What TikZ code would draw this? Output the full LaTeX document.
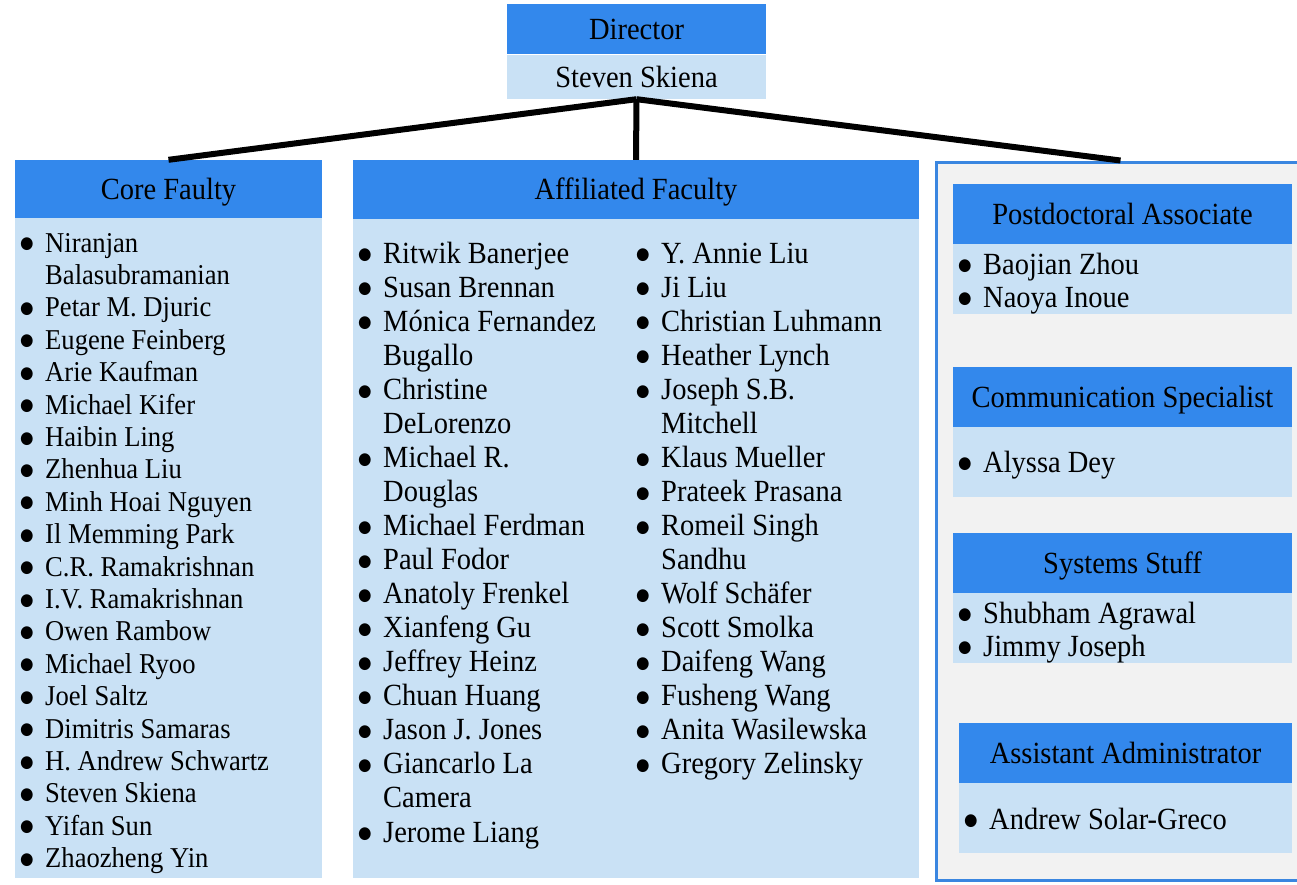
\documentclass[tikz,border=0pt]{standalone}
\usepackage{fontspec}
\setmainfont{Liberation Serif}
\newfontfamily\dejavu{DejaVu Sans}
\definecolor{hdr}{RGB}{51,136,236}
\definecolor{bdy}{RGB}{201,225,245}
\definecolor{pnl}{RGB}{242,242,242}
\definecolor{pbrd}{RGB}{58,134,224}
\newcommand\B{\llap{\raisebox{3pt}{\dejavu\fontsize{15.5}{15}\selectfont ●}\hspace{11.5pt}}}
\newcommand\vs[1]{\scalebox{1}[1.08]{#1}}
\tikzset{
  hdrbox/.style={fill=hdr, draw=none, inner sep=0, text height=20pt, text depth=0pt, font=\fontsize{28.5}{34}\selectfont},
  bdybox/.style={fill=bdy, draw=none, inner sep=0},
  item/.style={anchor=base west, inner sep=0, font=\fontsize{28.5}{34}\selectfont},
  smallitem/.style={anchor=base west, inner sep=0, font=\fontsize{26.6}{32}\selectfont},
  conn/.style={line width=6pt, black},
  panel/.style={fill=pnl, draw=pbrd, line width=3pt, inner sep=0}
}
\begin{document}
\begin{tikzpicture}[x=1pt,y=-1pt]
\useasboundingbox[fill=white] (0,0) rectangle (1297,884);
% right panel
\node[panel, minimum width=369pt, minimum height=718pt] (panel) at (1120.5,521) {};
% director
\node[hdrbox, minimum width=259pt, minimum height=50pt] (dirH) at (636.5,29) {\vs{Director}};
\node[bdybox, minimum width=259pt, minimum height=44pt, text height=20pt, text depth=0pt, font=\fontsize{28.5}{34}\selectfont] (dirB) at (636.5,77) {\vs{Steven Skiena}};
% core
\node[hdrbox, minimum width=307pt, minimum height=58pt] (coreH) at (168.5,189) {\vs{Core Faulty}};
\node[bdybox, minimum width=307pt, minimum height=660pt] (coreB) at (168.5,548) {};
% affiliated
\node[hdrbox, minimum width=566pt, minimum height=59pt] (afH) at (636,189.5) {\vs{Affiliated Faculty}};
\node[bdybox, minimum width=566pt, minimum height=659pt] (afB) at (636,548.5) {};
% right boxes
\node[hdrbox, minimum width=339pt, minimum height=60pt] (postH) at (1122.5,214) {\vs{Postdoctoral Associate}};
\node[bdybox, minimum width=339pt, minimum height=70pt] (postB) at (1122.5,279) {};
\node[hdrbox, minimum width=339pt, minimum height=60pt] (comH) at (1122.5,397) {\vs{Communication Specialist}};
\node[bdybox, minimum width=339pt, minimum height=70pt] (comB) at (1122.5,462) {};
\node[hdrbox, minimum width=339pt, minimum height=60pt] (sysH) at (1122.5,563) {\vs{Systems Stuff}};
\node[bdybox, minimum width=339pt, minimum height=70pt] (sysB) at (1122.5,628) {};
\node[hdrbox, minimum width=333pt, minimum height=60pt] (asH) at (1125.5,753) {\vs{Assistant Administrator}};
\node[bdybox, minimum width=333pt, minimum height=70pt] (asB) at (1125.5,818) {};
% connectors
\draw[conn] (dirB.south) -- (coreH.north);
\draw[conn] (dirB.south) -- (afH.north);
\draw[conn] (dirB.south) -- (panel.north);
% core list
\foreach \t [count=\i] in {\B Niranjan, Balasubramanian, \B Petar M. Djuric, \B Eugene Feinberg, \B Arie Kaufman, \B Michael Kifer, \B Haibin Ling, \B Zhenhua Liu, \B Minh Hoai Nguyen, \B Il Memming Park, \B C.R. Ramakrishnan, \B I.V. Ramakrishnan, \B Owen Rambow, \B Michael Ryoo, \B Joel Saltz, \B Dimitris Samaras, \B H. Andrew Schwartz, \B Steven Skiena, \B Yifan Sun, \B Zhaozheng Yin}
  \node[smallitem] (core\i) at (45,252+32.4*\i-32.4) {\vs{\t}};
% affiliated column 1
\foreach \t [count=\i] in {\B Ritwik Banerjee, \B Susan Brennan, \B Mónica Fernandez, Bugallo, \B Christine, DeLorenzo, \B Michael R., Douglas, \B Michael Ferdman, \B Paul Fodor, \B Anatoly Frenkel, \B Xianfeng Gu, \B Jeffrey Heinz, \B Chuan Huang, \B Jason J. Jones, \B Giancarlo La, Camera, \B Jerome Liang}
  \node[item] (afa\i) at (383,263+34.06*\i-34.06) {\vs{\t}};
% affiliated column 2
\foreach \t [count=\i] in {\B Y. Annie Liu, \B Ji Liu, \B Christian Luhmann, \B Heather Lynch, \B Joseph S.B., Mitchell, \B Klaus Mueller, \B Prateek Prasana, \B Romeil Singh, Sandhu, \B Wolf Schäfer, \B Scott Smolka, \B Daifeng Wang, \B Fusheng Wang, \B Anita Wasilewska, \B Gregory Zelinsky}
  \node[item] (afb\i) at (661,263+34.06*\i-34.06) {\vs{\t}};
% right lists
\node[item] (post1) at (983,274) {\vs{\B Baojian Zhou}};
\node[item] (post2) at (983,307) {\vs{\B Naoya Inoue}};
\node[item] (com1) at (983,472) {\vs{\B Alyssa Dey}};
\node[item] (sys1) at (983,623) {\vs{\B Shubham Agrawal}};
\node[item] (sys2) at (983,656) {\vs{\B Jimmy Joseph}};
\node[item] (as1) at (989,829) {\vs{\B Andrew Solar-Greco}};
\end{tikzpicture}
\end{document}
